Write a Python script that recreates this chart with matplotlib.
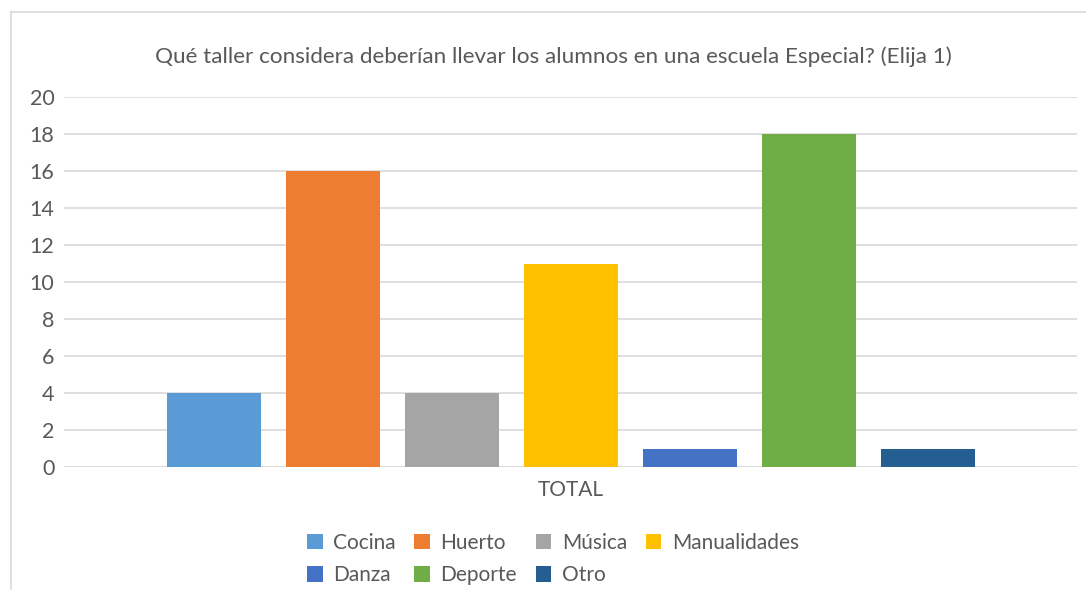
import matplotlib
matplotlib.use("Agg")
import matplotlib.pyplot as plt
from matplotlib.lines import Line2D
from matplotlib.patches import Patch

plt.rcParams['font.family'] = ['Lato', 'DejaVu Sans']

title = "Qué taller considera deberían llevar los alumnos en una escuela Especial? (Elija 1)"
category = "TOTAL"
series = ["Cocina", "Huerto", "Música", "Manualidades", "Danza", "Deporte", "Otro"]
values = [4, 16, 4, 11, 1, 18, 1]
colors = ["#5B9BD5", "#ED7D31", "#A5A5A5", "#FFC000", "#4472C4", "#70AD47", "#255E91"]
yticks = [0, 2, 4, 6, 8, 10, 12, 14, 16, 18, 20]

W, H = 1086, 590
fig = plt.figure(figsize=(W / 100, H / 100), dpi=100)
fig.patch.set_facecolor("white")

# chart frame (left and top edges)
fig.add_artist(Line2D([11 / W, 11 / W], [0, 1 - 12 / H], color="#D9D9D9", lw=1.2))
fig.add_artist(Line2D([11 / W, 1], [1 - 12 / H, 1 - 12 / H], color="#D9D9D9", lw=1.2))

left, right, top, bottom = 64, 1077, 97, 467
ax = fig.add_axes([left / W, 1 - bottom / H, (right - left) / W, (bottom - top) / H])

plot_w = right - left
bar_w = 94 / plot_w
step = 119 / plot_w
n = len(series)
for i, (name, v, c) in enumerate(zip(series, values, colors)):
    ax.bar((i - (n - 1) / 2) * step, v, width=bar_w, color=c, label=name, zorder=3)

ax.set_xlim(-0.5, 0.5)
ax.set_ylim(0, 20)
ax.set_yticks(yticks)
ax.set_xticks([0])
ax.set_xticklabels([category])
ax.grid(axis="y", color="#D9D9D9", lw=1.2, zorder=0)
for s in ax.spines.values():
    s.set_visible(False)
ax.axhline(0, color="#D9D9D9", lw=1.2, zorder=1)
ax.tick_params(axis="y", length=0, labelsize=15.5, colors="#595959", pad=7)
ax.tick_params(axis="x", length=0, labelsize=15, colors="#595959", pad=9)

fig.text(553 / W, 1 - 57 / H, title, ha="center", va="center", fontsize=16.2, color="#595959")

# legend laid out row by row in four columns
order = [0, 4, 1, 5, 2, 6, 3]
handles = [Patch(facecolor=colors[i], edgecolor="none") for i in order]
labels = [series[i] for i in order]
fig.legend(handles, labels, ncol=4, loc="center", bbox_to_anchor=(553 / W, 1 - 559 / H),
           frameon=False, fontsize=15, labelcolor="#595959", handlelength=0.75,
           handleheight=0.75, handletextpad=0.5, columnspacing=0.9, labelspacing=0.6,
           borderpad=0)

fig.savefig("out.png", dpi=100, facecolor="white")
